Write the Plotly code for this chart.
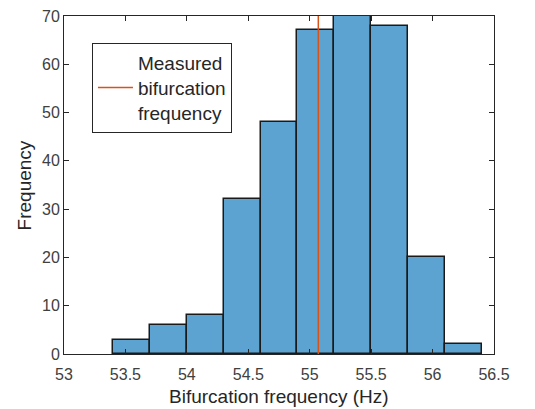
import plotly.graph_objects as go

bin_edges = [53.4, 53.7, 54.0, 54.3, 54.6, 54.9, 55.2, 55.5, 55.8, 56.1, 56.4]
counts = [3, 6, 8, 32, 48, 67, 70, 68, 20, 2]
measured_freq = 55.07
x_ticks = [53, 53.5, 54, 54.5, 55, 55.5, 56, 56.5]
y_ticks = [0, 10, 20, 30, 40, 50, 60, 70]

centers = [(bin_edges[i] + bin_edges[i + 1]) / 2 for i in range(len(counts))]
widths = [bin_edges[i + 1] - bin_edges[i] for i in range(len(counts))]

fig = go.Figure()
fig.add_trace(go.Bar(
    x=centers, y=counts, width=widths,
    marker=dict(color="#5da3d1", line=dict(color="#1a1a1a", width=1.5)),
    showlegend=False, hoverinfo="skip",
))
fig.add_trace(go.Scatter(
    x=[measured_freq, measured_freq], y=[0, 70], mode="lines",
    line=dict(color="#d95319", width=1.5),
    name="Measured<br>bifurcation<br>frequency", showlegend=True,
))

axis_common = dict(
    showline=True, linecolor="#262626", linewidth=1, mirror="ticks",
    ticks="inside", ticklen=5, tickcolor="#262626", tickwidth=1,
    showgrid=False, zeroline=False, automargin=False,
    tickfont=dict(family="Liberation Sans", size=16, color="#404040"),
)
fig.update_xaxes(range=[53, 56.5], tickvals=x_ticks,
                 ticktext=[f"{v:g}" for v in x_ticks],
                 ticklabelstandoff=6,
                 **axis_common)
fig.update_yaxes(range=[0, 70], tickvals=y_ticks, **axis_common)

fig.update_layout(
    width=535, height=409,
    margin=dict(l=64, r=41, t=16, b=55),
    plot_bgcolor="white", paper_bgcolor="white",
    bargap=0,
    legend=dict(x=0.065, y=0.92, xanchor="left", yanchor="top",
                bgcolor="white", bordercolor="#262626", borderwidth=1,
                font=dict(family="Liberation Sans", size=19, color="#262626"),
                itemwidth=35),
    annotations=[
        dict(text="Bifurcation frequency (Hz)", xref="paper", yref="paper",
             x=0.5, y=-0.125, xanchor="center", yanchor="middle", showarrow=False,
             font=dict(family="Liberation Sans", size=19, color="#262626")),
        dict(text="Frequency", xref="paper", yref="paper",
             x=-0.092, y=0.5, xanchor="center", yanchor="middle", showarrow=False,
             textangle=-90,
             font=dict(family="Liberation Sans", size=19, color="#262626")),
    ],
)
fig.write_html("out.html")
